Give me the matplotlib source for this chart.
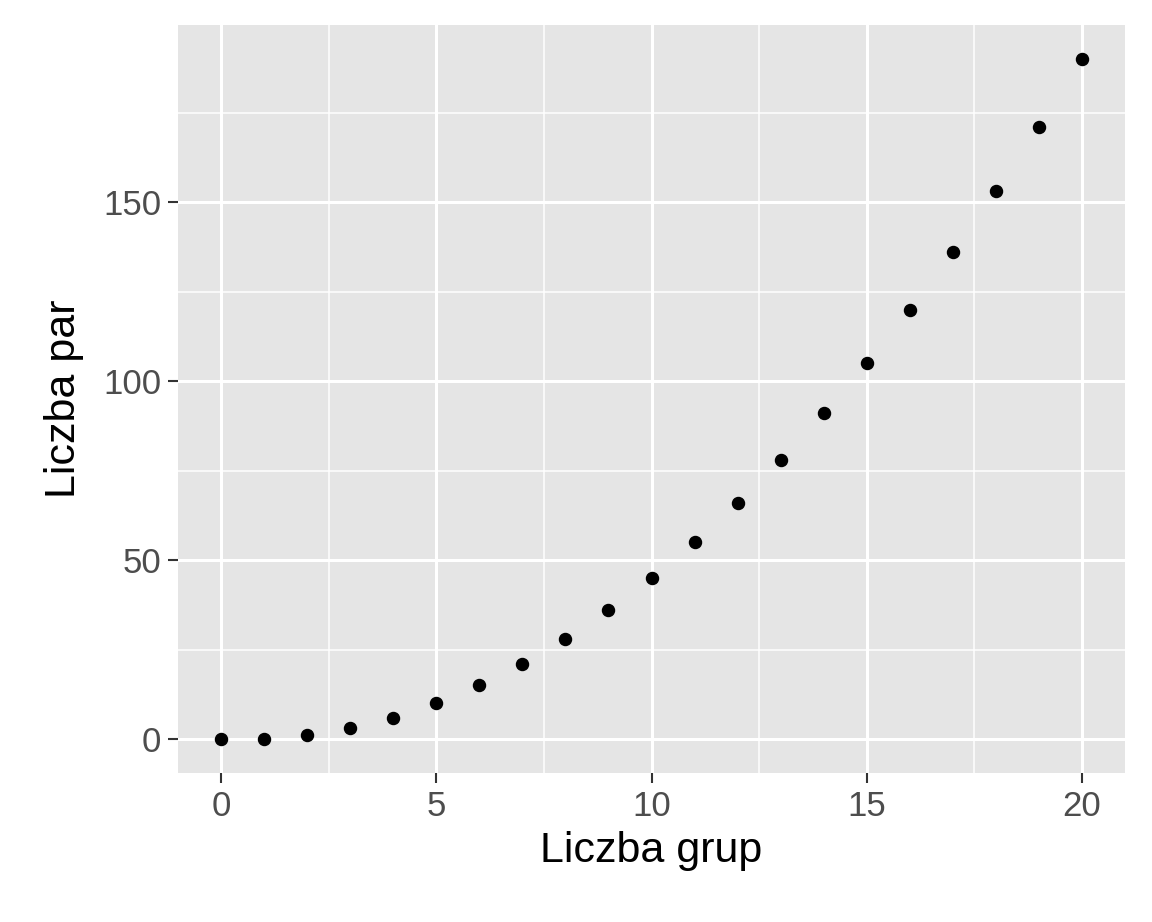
import matplotlib
matplotlib.use("Agg")
import matplotlib.pyplot as plt

plt.rcParams['font.family'] = ['Liberation Sans', 'DejaVu Sans']

groups = list(range(0, 21))
pairs = [0, 0, 1, 3, 6, 10, 15, 21, 28, 36, 45, 55, 66, 78, 91, 105, 120, 136, 153, 171, 190]
xticks = [0, 5, 10, 15, 20]
yticks = [0, 50, 100, 150]

fig = plt.figure(figsize=(11.52, 9.22), dpi=100)
ax = fig.add_axes([0.1545, 0.1616, 0.9766 - 0.1545, 0.9729 - 0.1616])
ax.set_facecolor("#E5E5E5")
ax.set_xlim(-1, 21)
ax.set_ylim(-9.5, 199.5)
ax.set_xticks(xticks)
ax.set_yticks(yticks)
ax.set_xticks([2.5, 7.5, 12.5, 17.5], minor=True)
ax.set_yticks([25, 75, 125, 175], minor=True)
ax.grid(which="major", color="white", linewidth=2.2)
ax.grid(which="minor", color="white", linewidth=1.1)
ax.set_axisbelow(True)
for s in ax.spines.values():
    s.set_visible(False)
ax.tick_params(which="major", length=7, width=1.5, color="#333333", labelsize=25, labelcolor="#4D4D4D", pad=5)
ax.tick_params(which="minor", length=0)
ax.scatter(groups, pairs, s=75, color="black", zorder=3)
ax.set_xlabel("Liczba grup", fontsize=31, labelpad=6)
ax.set_ylabel("Liczba par", fontsize=31, labelpad=14)
fig.savefig("out.png", dpi=100)
